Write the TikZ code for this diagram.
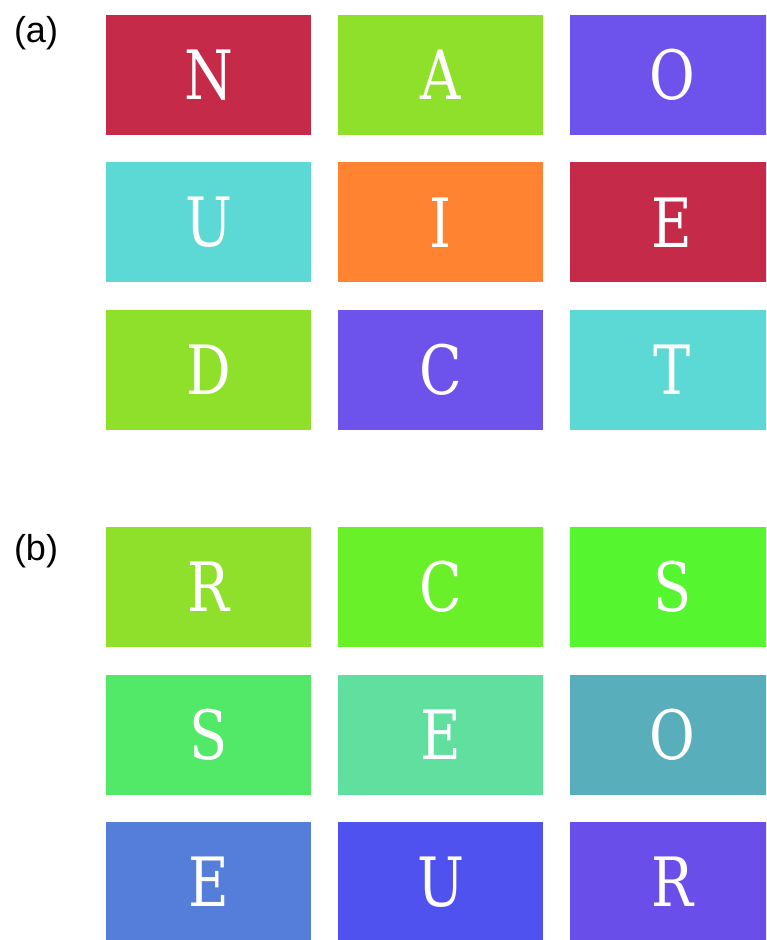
\documentclass[tikz,border=0pt]{standalone}
\usepackage{fontspec}
\setmainfont{Liberation Sans}
\newfontfamily\tileserif[FakeStretch=0.82]{DejaVu Serif}
\usetikzlibrary{positioning}
\definecolor{crimson}{HTML}{C52A48}
\definecolor{lime}{HTML}{8EE02A}
\definecolor{violet}{HTML}{6E52EC}
\definecolor{aqua}{HTML}{5CD9D4}
\definecolor{tangerine}{HTML}{FF8330}
\definecolor{grass}{HTML}{6AF028}
\definecolor{leaf}{HTML}{55F530}
\definecolor{jade}{HTML}{52E868}
\definecolor{mint}{HTML}{60DF9E}
\definecolor{teal}{HTML}{58AEBB}
\definecolor{sky}{HTML}{557EDB}
\definecolor{indigo}{HTML}{5052F0}
\definecolor{plum}{HTML}{6A4EEA}
\begin{document}
\begin{tikzpicture}[x=1pt,y=-1pt,every node/.style={inner sep=0pt}]
\tikzstyle{tile}=[minimum width=205pt,minimum height=120pt,text=white,font=\tileserif\fontsize{68}{68}\selectfont]
\tikzstyle{tag}=[font=\fontsize{36}{36}\selectfont]
\useasboundingbox (0,0) rectangle (766,940);
\clip (0,0) rectangle (766,940);

% panel (a)
\node[tag](la) at (36,33){(a)};
\node[tile,fill=crimson](a00) at (208.5,75){N};
\node[tile,fill=lime,right=27pt of a00](a01){A};
\node[tile,fill=violet,right=26pt of a01](a02){O};

\node[tile,fill=aqua,below=27pt of a00](a10){U};
\node[tile,fill=tangerine,right=27pt of a10](a11){I};
\node[tile,fill=crimson,right=26pt of a11](a12){E};

\node[tile,fill=lime,below=27pt of a10](a20){D};
\node[tile,fill=violet,right=27pt of a20](a21){C};
\node[tile,fill=aqua,right=26pt of a21](a22){T};

% panel (b)
\node[tag](lb) at (36,551){(b)};
\node[tile,fill=lime,below=97pt of a20](b00){R};
\node[tile,fill=grass,right=27pt of b00](b01){C};
\node[tile,fill=leaf,right=26pt of b01](b02){S};

\node[tile,fill=jade,below=27pt of b00](b10){S};
\node[tile,fill=mint,right=27pt of b10](b11){E};
\node[tile,fill=teal,right=26pt of b11](b12){O};

\node[tile,fill=sky,below=27pt of b10](b20){E};
\node[tile,fill=indigo,right=27pt of b20](b21){U};
\node[tile,fill=plum,right=26pt of b21](b22){R};
\end{tikzpicture}
\end{document}
